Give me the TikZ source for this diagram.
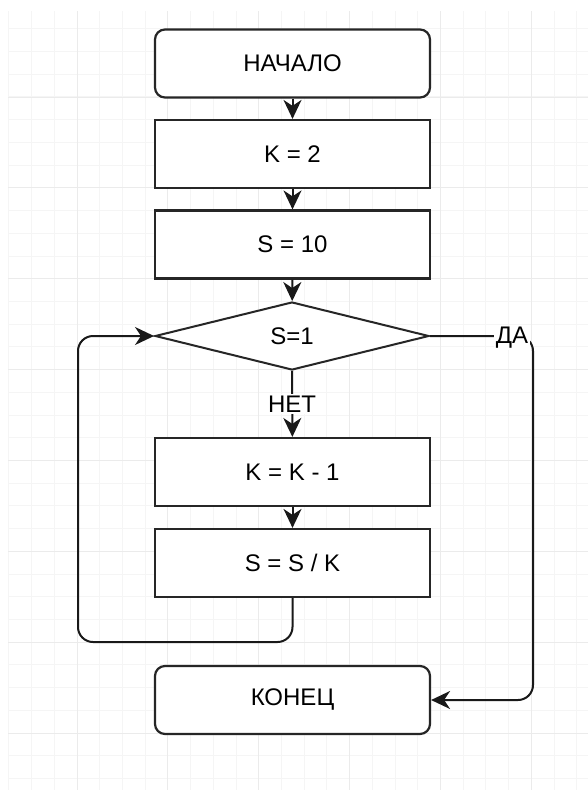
\documentclass[tikz,border=0pt]{standalone}
\usepackage{fontspec}
\setmainfont{Liberation Sans}
\usetikzlibrary{arrows.meta,shapes.geometric}
\begin{document}
\begin{tikzpicture}[x=1pt,y=-1pt,
  box/.style={draw=black!85, line width=2.2pt, minimum width=275pt, minimum height=68pt, inner sep=0pt, fill=white, font=\fontsize{24}{27}\selectfont},
  rbox/.style={box, rounded corners=10pt},
  dia/.style={box, diamond, aspect=4, minimum width=274pt, minimum height=68pt, line width=2pt},
  conn/.style={draw=black!90, line width=2pt, -{Stealth[length=19pt,width=18pt,inset=6pt]}},
  lbl/.style={fill=white, inner sep=1.5pt, font=\fontsize{24}{27}\selectfont},
  minorgrid/.style={draw=black!4, line width=1pt},
  majorgrid/.style={draw=black!8, line width=1pt}]
\useasboundingbox (0,0) rectangle (588,790);
\fill[white] (0,0) rectangle (588,790);
\begin{scope}
\clip (8,11) rectangle (588,790);
\foreach \i in {0,...,26} {
  \draw[minorgrid] ({8.84+22.72*\i},11) -- ({8.84+22.72*\i},790);
}
\foreach \i in {0,...,35} {
  \draw[minorgrid] (8,{6.1+22.72*\i}) -- (588,{6.1+22.72*\i});
}
\foreach \i in {0,...,6} {
  \draw[majorgrid] ({77+90.88*\i},11) -- ({77+90.88*\i},790);
}
\foreach \i in {0,...,8} {
  \draw[majorgrid] (8,{97+90.88*\i}) -- (588,{97+90.88*\i});
}
\end{scope}
\node[rbox] (start) at (292.5,63.5) {НАЧАЛО};
\node[box] (k2) at (292.5,154) {K = 2};
\node[box] (s10) at (292.5,244.5) {S = 10};
\node[dia] (d) at (292,336) {S=1};
\node[box] (k1) at (292.5,472) {K = K - 1};
\node[box] (s2) at (292.5,563) {S = S / K};
\node[rbox] (end) at (292.5,700) {КОНЕЦ};
\coordinate (lb) at (292.5,642);
\coordinate (ll) at (78,642);
\coordinate (lt) at (78,336);
\coordinate (rt) at (533,336);
\coordinate (rb) at (533,700);
\draw[conn] (start) -- (k2);
\draw[conn] (k2) -- (s10);
\draw[conn] (s10) -- (d);
\draw[conn] (d) -- (k1);
\draw[conn] (k1) -- (s2);
\draw[conn, rounded corners=15pt] (s2.south) -- (lb) -- (ll) -- (lt) -- (d.west);
\draw[conn, rounded corners=15pt] (d.east) -- (rt) -- (rb) -- (end.east);
\node[lbl] (no) at (292,404) {НЕТ};
\node[lbl] (yes) at (512,338) {ДА};
\end{tikzpicture}
\end{document}
